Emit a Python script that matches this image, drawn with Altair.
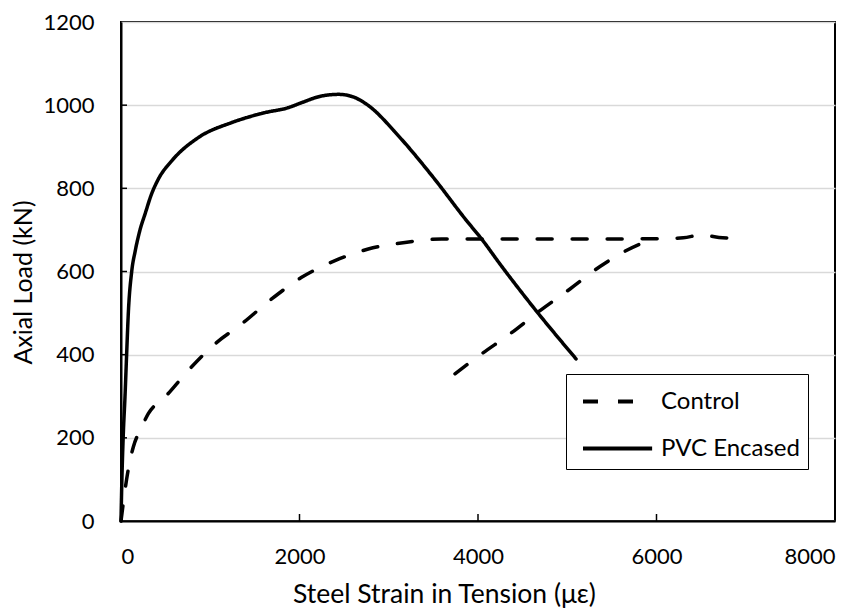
import altair as alt
import pandas as pd

# ---- data ----
pvc_strain = [0, 10, 26, 45, 63, 82, 120, 160, 213, 269, 340, 418, 568, 866, 1240,
              1613, 1875, 2024, 2248, 2440, 2600, 2753, 3126, 3500, 3873, 4041,
              4246, 4620, 5098]
pvc_load = [0, 100, 210, 300, 400, 500, 600, 650, 700, 738, 785, 822, 866, 922, 958,
            982, 994, 1006, 1022, 1026, 1020, 1002, 922, 826, 722, 678,
            618, 514, 390]

ctrl_a_strain = [0, 30, 45, 100, 138, 232, 306, 493, 754, 1053, 1352, 1688, 2024,
                 2398, 2771, 3182, 3593, 4000, 5000, 6000, 6300, 6500, 6700, 6900]
ctrl_a_load = [0, 50, 74, 145, 178, 226, 258, 298, 362, 426, 474, 534, 586,
               626, 654, 670, 678, 678, 678, 679, 681, 688, 682, 680]

ctrl_b_strain = [3742, 4041, 4359, 4695, 5031, 5367, 5815, 6000]
ctrl_b_load = [354, 402, 450, 506, 558, 612, 666, 680]

series_names = ["Control", "PVC Encased"]
x_ticks = [0, 2000, 4000, 6000, 8000]
y_ticks = [0, 200, 400, 600, 800, 1000, 1200]
inner_x_ticks = [2000, 4000, 6000]
inner_y_ticks = [200, 400, 600, 800, 1000]

rows = []
for s, l in zip(ctrl_a_strain, ctrl_a_load):
    rows.append({"strain": s, "load": l, "series": "Control", "seg": "c1"})
for s, l in zip(ctrl_b_strain, ctrl_b_load):
    rows.append({"strain": s, "load": l, "series": "Control", "seg": "c2"})
for s, l in zip(pvc_strain, pvc_load):
    rows.append({"strain": s, "load": l, "series": "PVC Encased", "seg": "p1"})
df = pd.DataFrame(rows)

FONT = "Lato"
W, H = 714, 499

xscale = alt.Scale(domain=[0, 8000], nice=False, zero=True)
yscale = alt.Scale(domain=[0, 1200], nice=False)

lines = alt.Chart(df).mark_line(
    strokeWidth=3.5, strokeCap="round", interpolate="monotone", color="black"
).encode(
    x=alt.X("strain:Q", scale=xscale,
            axis=alt.Axis(values=x_ticks, format="d", title="Steel Strain in Tension (με)",
                          grid=False, ticks=False, labelPadding=25, titlePadding=14,
                          titleX=323,
                          domainColor="black", domainWidth=2,
                          labelFont=FONT, labelFontSize=22, labelColor="black",
                          titleFont=FONT, titleFontSize=26.5, titleFontWeight="normal",
                          titleColor="black")),
    y=alt.Y("load:Q", scale=yscale,
            axis=alt.Axis(values=y_ticks, format="d", title="Axial Load (kN)",
                          grid=True, gridColor="#d9d9d9", gridWidth=1.3,
                          ticks=False, labelPadding=27, titlePadding=6,
                          titleY=260,
                          domainColor="black", domainWidth=2,
                          labelFont=FONT, labelFontSize=22, labelColor="black",
                          titleFont=FONT, titleFontSize=25, titleFontWeight="normal",
                          titleColor="black")),
    strokeDash=alt.StrokeDash(
        "series:N",
        scale=alt.Scale(domain=series_names, range=[[15, 20], [1, 0]]),
        legend=alt.Legend(
            title=None, orient="none", legendX=445, legendY=352,
            strokeColor="black", fillColor="white", padding=8,
            symbolType="M-0.6,0H3.35", symbolSize=1225, symbolStrokeWidth=4,
            symbolStrokeColor="black", symbolFillColor="transparent",
            labelFont=FONT, labelFontSize=24,
            labelColor="black", labelOffset=48, rowPadding=15,
        ),
    ),
    detail="seg:N",
)

xt = alt.Chart(pd.DataFrame({"t": inner_x_ticks})).mark_rule(
    color="black", strokeWidth=1.5
).encode(x=alt.X("t:Q", scale=xscale), y=alt.value(H), y2=alt.value(H - 7))

yt = alt.Chart(pd.DataFrame({"t": inner_y_ticks})).mark_rule(
    color="black", strokeWidth=1.5
).encode(y=alt.Y("t:Q", scale=yscale), x=alt.value(0), x2=alt.value(6))

chart = alt.layer(lines, xt, yt).properties(
    width=W, height=H, autosize="none",
    padding={"left": 113, "top": 14, "right": 25, "bottom": 87},
).configure_view(stroke="black", strokeWidth=2)

chart.save("out.html", embed_options={"renderer": "svg", "actions": False})
